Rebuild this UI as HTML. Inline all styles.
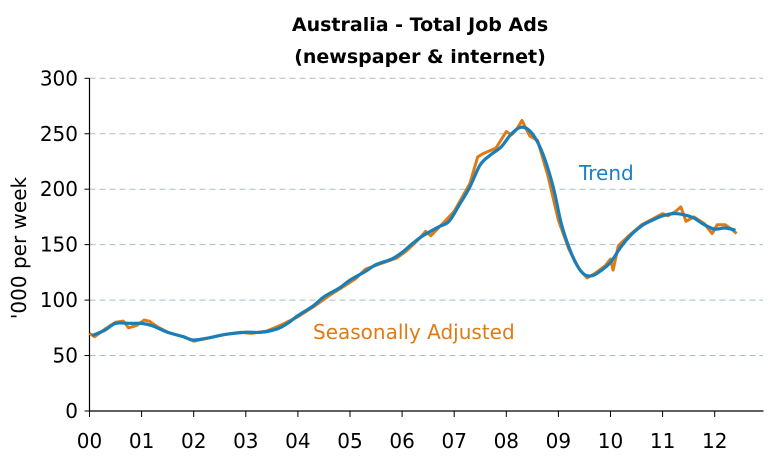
<!DOCTYPE html>
<html><head><meta charset="utf-8"><style>
body{margin:0;background:#fff;}
svg{display:block;font-family:"DejaVu Sans","Liberation Sans",sans-serif;}
</style></head><body>
<svg id="chart" width="776" height="460" viewBox="0 0 776 460">
<text x="420" y="31" text-anchor="middle" font-size="19" font-weight="bold" fill="#000">Australia - Total Job Ads</text>
<text x="420" y="63" text-anchor="middle" font-size="19" font-weight="bold" fill="#000">(newspaper &amp; internet)</text>
<text transform="translate(26,248) rotate(-90)" text-anchor="middle" font-size="20" fill="#000">'000 per week</text>
<g id="grid"></g><g id="axes"></g><g id="series"></g>
<text x="579" y="180" font-size="20" fill="#1a7fc4">Trend</text>
<text x="313" y="339" font-size="20" fill="#e07b14">Seasonally Adjusted</text>
</svg>
<script>
const yTicks=[0,50,100,150,200,250,300];
const xTickLabels=["00","01","02","03","04","05","06","07","08","09","10","11","12"];
const trendYears=[0.05,0.3,0.5,0.8,1.0,1.2,1.5,1.8,2.0,2.3,2.6,3.0,3.3,3.6,3.8,4.0,4.3,4.5,4.8,5.0,5.3,5.5,5.8,6.0,6.2,6.4,6.7,6.9,7.1,7.3,7.5,7.7,7.9,8.1,8.3,8.5,8.7,8.9,9.05,9.2,9.35,9.5,9.65,9.8,10.0,10.2,10.4,10.6,10.8,11.0,11.2,11.4,11.6,11.8,12.0,12.2,12.4];
const trendValues=[68,73,79,79,79,77,71,67,64,66,69,71,71,74,79,86,95,103,111,118,126,132,137,143,151,158,166,171,186,202,222,231,238,250,256,250,232,202,170,148,132,123,122,126,134,148,159,167,172,176,178,177,174,168,164,165,163];
const saYears=[0.0,0.1,0.3,0.5,0.65,0.75,0.9,1.05,1.15,1.3,1.5,1.8,2.0,2.3,2.6,2.9,3.1,3.4,3.7,4.0,4.3,4.6,4.9,5.1,5.3,5.6,5.9,6.1,6.3,6.45,6.55,6.8,7.0,7.3,7.45,7.55,7.8,8.0,8.1,8.2,8.3,8.45,8.6,8.8,9.0,9.2,9.4,9.55,9.7,9.9,10.0,10.05,10.15,10.35,10.6,10.8,11.0,11.1,11.25,11.35,11.45,11.6,11.8,11.95,12.05,12.2,12.35,12.42];
const saValues=[70,67,74,80,81,75,77,82,81,76,71,67,63,66,69,71,70,72,78,85,94,104,113,119,128,133,138,145,154,162,158,170,180,205,229,232,237,252,249,254,262,248,244,212,172,146,128,120,124,131,137,127,149,158,168,173,178,176,180,184,171,175,169,160,168,168,163,160];
const X0=89.5,XW=52.1,Y0=411,YS=(411-78.3)/300;
const xs=t=>X0+t*XW, ys=v=>Y0-v*YS;
const NS="http://www.w3.org/2000/svg";
function mk(tag,attrs,parent){const e=document.createElementNS(NS,tag);for(const k in attrs)e.setAttribute(k,attrs[k]);parent.appendChild(e);return e;}
const grid=document.getElementById('grid'),axes=document.getElementById('axes'),series=document.getElementById('series');
yTicks.forEach(v=>{
  if(v>0){const g=mk('line',{x1:X0,x2:763,y1:ys(v),y2:ys(v),stroke:'#a9bfc6','stroke-width':1,'stroke-dasharray':'6,4'},grid);
  
  }
  const t=mk('text',{x:78,y:ys(v)+7,'text-anchor':'end','font-size':20,fill:'#000'},axes);t.textContent=v;
  
  
  mk('line',{x1:X0-5,x2:X0,y1:ys(v),y2:ys(v),stroke:'#000'},axes);
});
const ya=mk('line',{x1:X0,x2:X0,y1:ys(300),y2:Y0,stroke:'#000','stroke-width':1.2},axes);


const xa=mk('line',{x1:X0,x2:763.5,y1:Y0,y2:Y0,stroke:'#000','stroke-width':1.2},axes);


xTickLabels.forEach((l,i)=>{
  mk('line',{x1:xs(i),x2:xs(i),y1:Y0,y2:Y0+6,stroke:'#000'},axes);
  const t=mk('text',{x:xs(i),y:448,'text-anchor':'middle','font-size':20,fill:'#000'},axes);t.textContent=l;
  
  
});
function smooth(pts){let d='M'+pts[0][0]+','+pts[0][1];
  for(let i=0;i<pts.length-1;i++){const p0=pts[Math.max(0,i-1)],p1=pts[i],p2=pts[i+1],p3=pts[Math.min(pts.length-1,i+2)];
  d+=' C'+(p1[0]+(p2[0]-p0[0])/6)+','+(p1[1]+(p2[1]-p0[1])/6)+' '+(p2[0]-(p3[0]-p1[0])/6)+','+(p2[1]-(p3[1]-p1[1])/6)+' '+p2[0]+','+p2[1];}
  return d;}
const saPts=saYears.map((t,i)=>[xs(t),ys(saValues[i])]);
const sa=mk('path',{d:'M'+saPts.map(p=>p.join(',')).join(' L'),fill:'none',stroke:'#e07b14','stroke-width':3,'stroke-linejoin':'round'},series);


const trPts=trendYears.map((t,i)=>[xs(t),ys(trendValues[i])]);
const tr=mk('path',{d:smooth(trPts),fill:'none',stroke:'#1a7fb8','stroke-width':3.2,'stroke-linejoin':'round'},series);


</script>
</body></html>
